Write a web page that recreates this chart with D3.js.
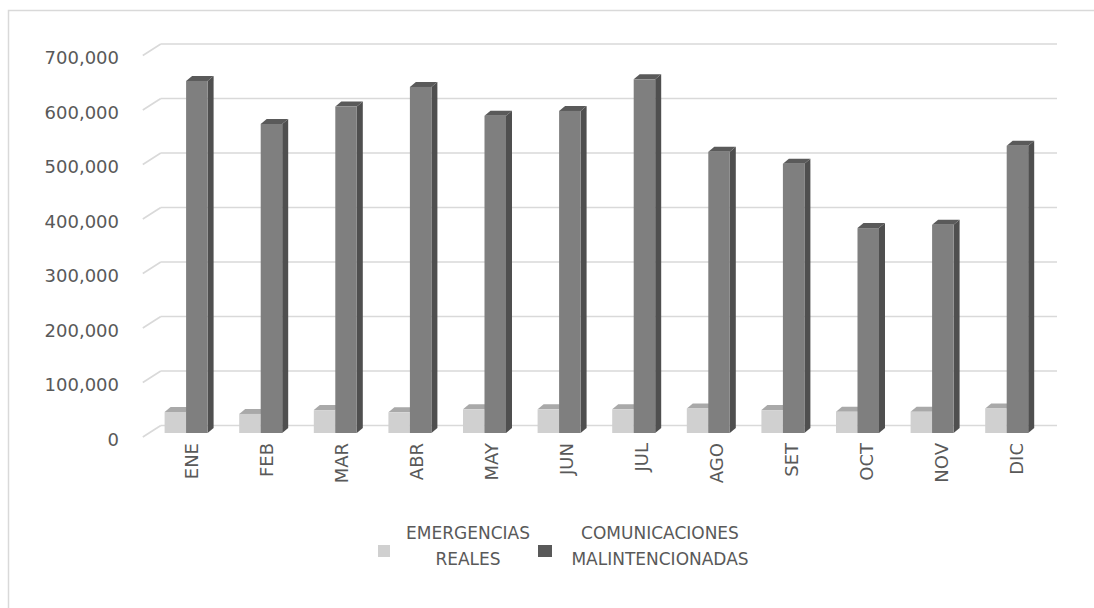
<!DOCTYPE html>
<html>
<head>
<meta charset="utf-8">
<script src="https://cdn.jsdelivr.net/npm/d3@7"></script>
<style>
  body { margin: 0; background: #fff; }
  text { font-family: "DejaVu Sans", sans-serif; fill: #595959; }
</style>
</head>
<body>
<div id="chartArea"></div>
<script>
// data
const months = ['ENE', 'FEB', 'MAR', 'ABR', 'MAY', 'JUN', 'JUL', 'AGO', 'SET', 'OCT', 'NOV', 'DIC'];
const seriesNames = ['EMERGENCIAS REALES', 'COMUNICACIONES MALINTENCIONADAS'];
const emergencias = [38500, 35000, 42000, 38000, 43500, 43500, 43500, 45000, 42000, 39000, 39000, 45000];
const malintencionadas = [646000, 567000, 599000, 635000, 582000, 591000, 649000, 516000, 494000, 376000, 382000, 527000];
const yTicks = [0, 100000, 200000, 300000, 400000, 500000, 600000, 700000];

const width = 1094, height = 608;

// colours for each series: front, side, top
const colors = [
    { front: '#d0d0d0', side: '#b4b4b4', top: '#a9a9a9', legend: '#d0d0d0' },
    { front: '#7f7f7f', side: '#4f4f4f', top: '#5a5a5a', legend: '#595959' }
];

// depth of the floor: front edge -> bar plane -> back wall
let toBack = { dx: 12, dy: -7.5 };
let toFront = { dx: -6, dy: 4 };
let barDepth = { dx: 6, dy: -5 };

let svg = d3.select('#chartArea')
    .append('svg')
        .attr('width', width)
        .attr('height', height);

// chart border
svg.append('rect')
    .attr('x', 8.5).attr('y', 10.5)
    .attr('width', 1100).attr('height', 620)
    .attr('fill', 'none')
    .attr('stroke', '#d9d9d9')
    .attr('stroke-width', 1.5);

// value scale in the plane where the bars stand
let yScale = d3.scaleLinear()
    .domain([0, 700000])
    .range([433, 51.5]);

let x0 = d3.scaleBand()
    .domain(months)
    .range([148.8, 148.8 + 74.6 * 12])
    .padding(0);

let x1 = d3.scaleBand()
    .domain(seriesNames)
    .range([0, x0.bandwidth()])
    .paddingInner(0)
    .paddingOuter(0.735);

let xLabel = d3.scalePoint()
    .domain(months)
    .range([191.5, 1016.5]);

// gridlines on the back wall with the diagonal on the side wall
let grid = svg.append('g').attr('class', 'grid');
let backLeft = x0.range()[0] + toFront.dx + 18;
grid.selectAll('g.gl')
    .data(yTicks)
    .enter().append('g')
    .each(function (v) {
        let g = d3.select(this);
        let yb = yScale(v) + toBack.dy;
        let yf = yScale(v) + toFront.dy;
        g.append('line')
            .attr('x1', backLeft).attr('x2', 1057)
            .attr('y1', yb).attr('y2', yb)
            .attr('stroke', '#d9d9d9').attr('stroke-width', 1.6);
        g.append('line')
            .attr('x1', backLeft - 18).attr('x2', backLeft)
            .attr('y1', yf).attr('y2', yb)
            .attr('stroke', '#d9d9d9').attr('stroke-width', 1.6);
    });

// y labels
svg.append('g')
    .selectAll('text')
    .data(yTicks)
    .enter().append('text')
        .attr('x', 119)
        .attr('y', v => yScale(v) + toFront.dy + 2)
        .attr('text-anchor', 'end')
        .attr('dominant-baseline', 'central')
        .style('font-size', '18px')
        .text(d3.format(','));

// bars
let rows = months.map((m, i) => ({
    month: m,
    values: [emergencias[i], malintencionadas[i]]
}));

let bars = svg.append('g').attr('class', 'bars');
rows.forEach(row => {
    row.values.forEach((v, s) => {
        let x = x0(row.month) + x1(seriesNames[s]);
        let w = x1.bandwidth();
        let yTop = yScale(v), yBot = yScale(0);
        let c = colors[s];
        let g = bars.append('g');
        // side face
        g.append('path')
            .attr('d', d3.line()([
                [x + w, yTop], [x + w + barDepth.dx, yTop + barDepth.dy],
                [x + w + barDepth.dx, yBot + barDepth.dy], [x + w, yBot]
            ]) + 'Z')
            .attr('fill', c.side);
        // top face
        g.append('path')
            .attr('d', d3.line()([
                [x, yTop], [x + barDepth.dx, yTop + barDepth.dy],
                [x + w + barDepth.dx, yTop + barDepth.dy], [x + w, yTop]
            ]) + 'Z')
            .attr('fill', c.top);
        // front face
        g.append('rect')
            .attr('x', x).attr('y', yTop)
            .attr('width', w).attr('height', yBot - yTop)
            .attr('fill', c.front);
    });
});

// month labels, rotated
svg.append('g')
    .selectAll('text')
    .data(months)
    .enter().append('text')
        .attr('transform', d => 'translate(' + xLabel(d) + ',443) rotate(-90)')
        .attr('text-anchor', 'end')
        .attr('dominant-baseline', 'central')
        .style('font-size', '18px')
        .text(d => d);

// legend
let legendItems = [
    { lines: ['EMERGENCIAS', 'REALES'], sx: 378, sw: 12, tx: 468 },
    { lines: ['COMUNICACIONES', 'MALINTENCIONADAS'], sx: 538, sw: 14, tx: 660 }
];
let legend = svg.append('g').attr('class', 'legend');
legendItems.forEach((item, i) => {
    legend.append('rect')
        .attr('x', item.sx).attr('y', 545)
        .attr('width', item.sw).attr('height', 12)
        .attr('fill', colors[i].legend);
    item.lines.forEach((t, j) => {
        legend.append('text')
            .attr('x', item.tx)
            .attr('y', 533 + j * 26)
            .attr('text-anchor', 'middle')
            .attr('dominant-baseline', 'central')
            .style('font-size', '17px')
            .text(t);
    });
});
</script>
</body>
</html>
